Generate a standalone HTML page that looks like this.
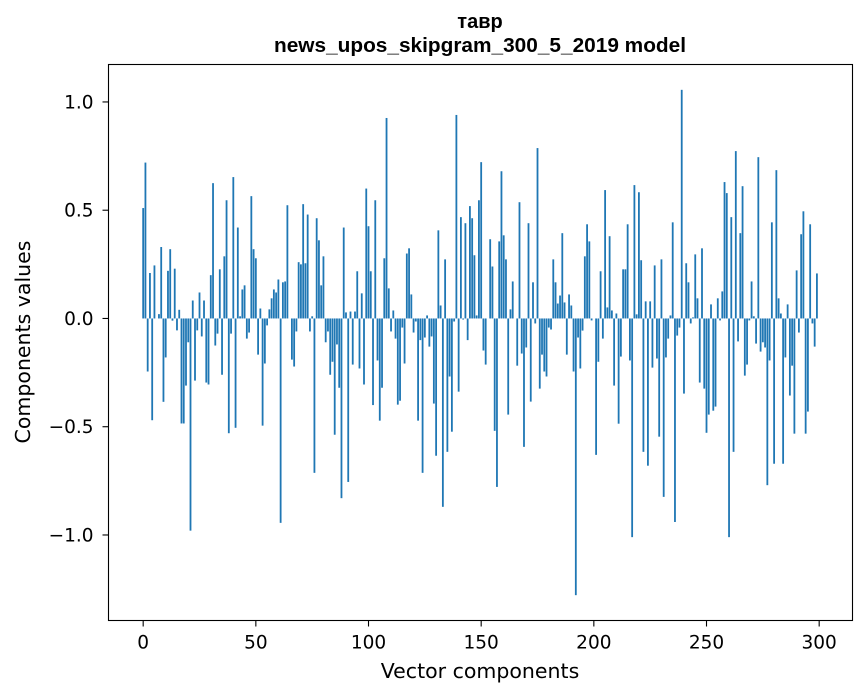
<!DOCTYPE html>
<html><head><meta charset="utf-8"><style>
body{margin:0;background:#fff;}
svg{display:block;font-family:"DejaVu Sans","Liberation Sans",sans-serif;}
.t{font-family:"Liberation Sans","DejaVu Sans",sans-serif;font-weight:bold;}
</style></head><body>
<svg id="chart" width="867" height="696" viewBox="0 0 867 696" xmlns="http://www.w3.org/2000/svg">
<text class="t" x="480" y="28" font-size="20" text-anchor="middle">тавр</text>
<text class="t" x="480" y="52" font-size="20" text-anchor="middle" textLength="412" lengthAdjust="spacingAndGlyphs">news_upos_skipgram_300_5_2019 model</text>
<g id="bars"></g>
<rect x="108.5" y="64.5" width="744" height="556" fill="none" stroke="#000" stroke-width="1.1"/>
<g id="xticks"></g>
<g id="yticks"></g>
<text x="480" y="678" font-size="20.5" text-anchor="middle">Vector components</text>
<text transform="translate(30,342) rotate(-90)" font-size="20.5" text-anchor="middle">Components values</text>
</svg>
<script>
const values = [0.51,0.72,-0.245,0.21,-0.47,0.245,0.0,0.02,0.33,-0.385,-0.18,0.22,0.32,-0.01,0.23,-0.055,0.04,-0.485,-0.485,-0.31,
-0.11,-0.98,0.083,-0.287,-0.055,0.12,-0.083,0.083,-0.296,-0.305,0.2,0.625,-0.125,-0.07,0.227,-0.26,0.287,0.546,-0.53,-0.07,
0.653,-0.505,0.42,0.01,0.134,0.153,-0.093,-0.065,0.565,0.32,0.278,-0.167,0.046,-0.495,-0.208,-0.032,0.042,0.093,0.134,0.12,
0.18,-0.944,0.167,0.171,0.523,0.0,-0.19,-0.222,-0.06,0.26,0.25,0.528,0.255,0.48,-0.06,0.01,-0.713,0.463,0.361,0.153,
0.287,-0.11,-0.06,-0.26,-0.2,-0.537,-0.12,-0.32,-0.83,0.42,0.028,-0.755,0.032,-0.213,0.032,0.218,-0.231,0.116,-0.305,0.6,
0.426,0.218,-0.4,0.546,-0.194,-0.472,-0.32,0.278,0.926,0.139,-0.06,0.037,-0.093,-0.398,-0.38,-0.042,-0.208,0.3,0.324,0.111,
-0.065,-0.014,-0.472,-0.1,-0.713,-0.088,0.014,-0.13,-0.083,-0.393,-0.634,0.407,0.06,-0.87,0.273,-0.616,-0.268,-0.523,-0.014,0.94,
-0.338,0.468,-0.005,0.44,-0.1,0.519,0.463,0.292,0.014,0.546,0.722,-0.148,-0.213,0.0,0.366,0.24,-0.519,-0.778,0.356,0.68,
0.384,0.273,-0.444,0.042,0.171,0.0,-0.218,0.537,-0.162,-0.593,-0.134,0.44,-0.384,0.167,-0.023,0.787,-0.324,-0.167,-0.245,-0.268,
-0.042,-0.051,0.273,0.167,0.069,0.106,0.394,0.074,-0.167,0.111,0.06,-0.245,-1.278,-0.088,-0.231,-0.056,0.287,0.435,0.356,-0.009,
0.0,-0.63,-0.2,0.218,-0.093,0.593,0.051,0.38,0.037,-0.31,0.023,-0.486,-0.176,0.227,0.227,0.435,-0.194,-1.01,0.616,0.019,
0.583,0.269,-0.616,0.079,-0.68,0.079,-0.227,0.245,-0.185,-0.546,0.273,-0.824,-0.18,-0.093,0.014,0.444,-0.94,-0.079,-0.042,1.056,
-0.347,0.255,0.167,-0.023,0.005,0.296,0.093,-0.296,0.324,-0.324,-0.528,-0.444,0.065,-0.426,-0.407,0.093,-0.009,0.125,0.63,0.579,
-1.01,0.468,-0.616,0.773,-0.106,0.394,0.611,-0.264,-0.213,-0.009,0.171,0.01,-0.116,0.745,-0.153,-0.11,-0.134,-0.77,-0.194,0.444,
-0.671,0.685,0.093,0.023,-0.671,-0.18,0.065,-0.356,-0.218,-0.532,0.222,-0.065,0.389,0.495,-0.532,-0.43,0.435,-0.023,-0.13,0.208];
const xTicks = [0,50,100,150,200,250,300];
const yTicks = [-1.0,-0.5,0.0,0.5,1.0];
const yTickLabels = ["\u22121.0","\u22120.5","0.0","0.5","1.0"];

const X0=108.5, X1=852.5, Y0=620.5, Y1=64.5;
const xMin=-15.39, xMax=314.79, yMin=-1.395, yMax=1.173;
const xs = v => X0 + (v-xMin)/(xMax-xMin)*(X1-X0);
const ys = v => Y0 - (v-yMin)/(yMax-yMin)*(Y0-Y1);
const NS="http://www.w3.org/2000/svg";
const bw = xs(0.8)-xs(0);
const gb=document.getElementById('bars');
values.forEach((v,i)=>{
  const r=document.createElementNS(NS,'rect');
  const a=ys(Math.max(v,0)), b=ys(Math.min(v,0));
  r.setAttribute('x',xs(i)-bw/2); r.setAttribute('width',bw);
  r.setAttribute('y',a); r.setAttribute('height',Math.max(b-a,0.01));
  r.setAttribute('fill','#1f77b4');
  
  
  gb.appendChild(r);
});
const gx=document.getElementById('xticks');
xTicks.forEach(t=>{
  const x=xs(t);
  const l=document.createElementNS(NS,'line');
  l.setAttribute('x1',x);l.setAttribute('x2',x);l.setAttribute('y1',Y0);l.setAttribute('y2',Y0+6);l.setAttribute('stroke','#000');l.setAttribute('stroke-width','1.1');
  
  
  gx.appendChild(l);
  const tx=document.createElementNS(NS,'text');
  tx.setAttribute('x',x);tx.setAttribute('y',Y0+28);tx.setAttribute('font-size','18.5');tx.setAttribute('text-anchor','middle');
  tx.textContent=t;
  
  
  gx.appendChild(tx);
});
const gy=document.getElementById('yticks');
yTicks.forEach((t,i)=>{
  const y=ys(t);
  const l=document.createElementNS(NS,'line');
  l.setAttribute('x1',X0-6);l.setAttribute('x2',X0);l.setAttribute('y1',y);l.setAttribute('y2',y);l.setAttribute('stroke','#000');l.setAttribute('stroke-width','1.1');
  
  
  gy.appendChild(l);
  const tx=document.createElementNS(NS,'text');
  tx.setAttribute('x',X0-15);tx.setAttribute('y',y+6.5);tx.setAttribute('font-size','18.5');tx.setAttribute('text-anchor','end');
  tx.textContent=yTickLabels[i];
  
  
  gy.appendChild(tx);
});
</script>
</body></html>
